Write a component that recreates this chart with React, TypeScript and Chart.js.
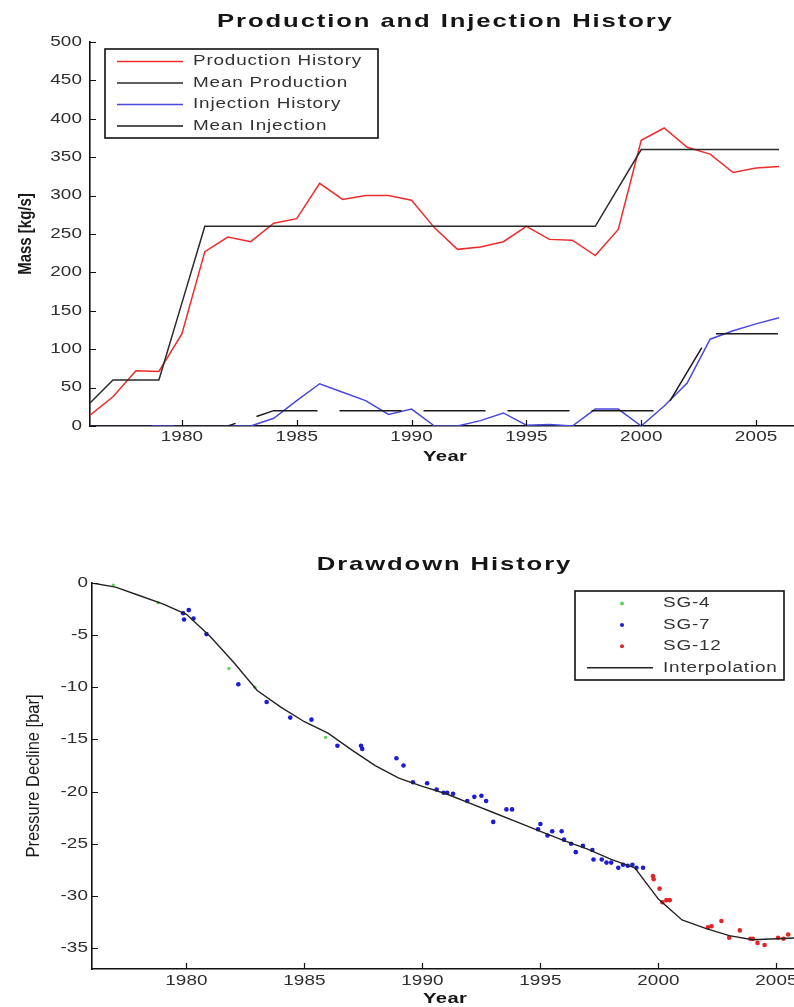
import React, { useEffect, useRef } from "react";
import { Chart, registerables } from "chart.js";

Chart.register(...registerables);

// ---------- Data: Production and Injection History ----------
const years = [
  1976, 1977, 1978, 1979, 1980, 1981, 1982, 1983, 1984, 1985, 1986, 1987, 1988, 1989, 1990, 1991,
  1992, 1993, 1994, 1995, 1996, 1997, 1998, 1999, 2000, 2001, 2002, 2003, 2004, 2005, 2006,
];
const productionHistory = [
  14, 38, 72, 71, 120, 227, 246, 240, 264, 270, 316, 295, 300, 300, 294, 258,
  230, 233, 240, 260, 243, 242, 222, 256, 372, 388, 363, 354, 330, 336, 338,
];
const meanProduction = [
  30, 60, 60, 60, 160, 260, 260, 260, 260, 260, 260, 260, 260, 260, 260, 260,
  260, 260, 260, 260, 260, 260, 260, 310, 360, 360, 360, 360, 360, 360, 360,
];
const injectionHistory = [
  0, 0, 0, 0, 0, 0, 0, 0, 10, 33, 55, 44, 33, 15, 22, 0,
  0, 7, 17, 1, 2, 0, 22, 22, 0, 26, 56, 113, 124, 133, 141,
];
const meanInjection = [
  0, 0, 0, 0, 0, 0, 0, 10, 20, 20, 20, 20, 20, 20, 20, 20,
  20, 20, 20, 20, 20, 20, 20, 20, 20, 20, 70, 120, 120, 120, 120,
];
const massTicks = [0, 50, 100, 150, 200, 250, 300, 350, 400, 450, 500];
const yearTicks = [1980, 1985, 1990, 1995, 2000, 2005];

// ---------- Data: Drawdown History ----------
const interpolation = [
  0, -0.4, -1.2, -2.0, -3.0, -5.1, -7.6, -10.3, -11.9, -13.3, -14.4, -16.0, -17.5, -18.7, -19.5, -20.2,
  -21.1, -22.0, -22.9, -23.8, -24.7, -25.5, -26.5, -27.3, -30.3, -32.3, -33.1, -33.8, -34.2, -34.1, -34.0,
];
const sg4Years = [1976.9, 1978.8, 1981.8, 1982.9, 1985.9];
const sg4Decline = [-0.2, -1.9, -8.2, -10.0, -14.8];
const sg7Years = [
  1979.86, 1980.1, 1979.9, 1980.3, 1980.85, 1982.2, 1983.4, 1984.4, 1985.3, 1986.4, 1987.4, 1987.45,
  1988.9, 1989.2, 1989.6, 1990.2, 1990.6, 1990.9, 1991.05, 1991.3, 1991.9, 1992.2, 1992.5, 1992.7,
  1993.0, 1993.56, 1993.8, 1994.9, 1995.0, 1995.3, 1995.5, 1995.9, 1996.0, 1996.3, 1996.5, 1996.8,
  1997.2, 1997.25, 1997.6, 1997.8, 1998.0, 1998.3, 1998.5, 1998.7, 1998.9, 1999.07, 1999.35,
];
const sg7Decline = [
  -2.9, -2.6, -3.5, -3.4, -4.9, -9.7, -11.4, -12.9, -13.1, -15.6, -15.6, -15.9,
  -16.8, -17.5, -19.1, -19.2, -19.8, -20.1, -20.1, -20.2, -20.9, -20.5, -20.4, -20.9,
  -22.9, -21.7, -21.7, -23.6, -23.1, -24.2, -23.8, -23.8, -24.6, -25.0, -25.8, -25.2,
  -25.6, -26.5, -26.5, -26.8, -26.8, -27.3, -27.0, -27.1, -27.0, -27.3, -27.3,
];
const sg12Years = [
  1999.77, 1999.8, 2000.05, 2000.17, 2000.34, 2000.48, 2002.1, 2002.25, 2002.67, 2003.0,
  2003.45, 2003.9, 2004.0, 2004.2, 2004.5, 2005.07, 2005.3, 2005.5, 2005.95,
];
const sg12Decline = [
  -28.1, -28.4, -29.3, -30.6, -30.4, -30.4, -33.0, -32.9, -32.4, -34.0,
  -33.3, -34.1, -34.1, -34.5, -34.7, -34.0, -34.1, -33.7, -33.9,
];
const pressureTicks = [-35, -30, -25, -20, -15, -10, -5, 0];

const FONT = '"Liberation Sans", Arial, Helvetica, sans-serif';
const STRETCH = 1.35;

type LegendSpec = {
  x: number; y: number; w: number; h: number;
  row0: number; step: number; sx1: number; sx2: number; mx: number; tx: number;
};
type Decor = {
  title: string; titleX: number; titleY: number;
  xTitle: string; xTitleX: number; xTitleY: number;
  yTitle: string; yTitleX: number; yTitleFont: string; yTitleStretch: number;
  xLabelY: number; yLabelRight: number;
  legend: LegendSpec;
};

function stretchText(
  ctx: CanvasRenderingContext2D, text: string, x: number, y: number, font: string,
  align: CanvasTextAlign, ls: number, color: string
) {
  ctx.save();
  ctx.translate(x, y);
  ctx.scale(STRETCH, 1);
  ctx.font = font;
  (ctx as any).letterSpacing = ls + "px";
  ctx.textAlign = align;
  ctx.textBaseline = "middle";
  ctx.fillStyle = color;
  const dx = align === "right" ? ls : align === "center" ? ls / 2 : 0;
  ctx.fillText(text, dx, 0);
  ctx.restore();
}

function decorPlugin(d: Decor) {
  return {
    id: "decor",
    afterDraw(chart: any) {
      const ctx: CanvasRenderingContext2D = chart.ctx;
      const ca = chart.chartArea;
      const xs = chart.scales.x;
      const ys = chart.scales.y;
      ctx.save();
      // inward tick marks
      ctx.strokeStyle = "#111";
      ctx.lineWidth = 1.2;
      ctx.beginPath();
      xs.ticks.forEach((t: any) => {
        const p = Math.round(xs.getPixelForValue(t.value)) + 0.5;
        ctx.moveTo(p, ca.bottom);
        ctx.lineTo(p, ca.bottom - 6);
      });
      ys.ticks.forEach((t: any) => {
        const p = Math.round(ys.getPixelForValue(t.value)) + 0.5;
        ctx.moveTo(ca.left, p);
        ctx.lineTo(ca.left + 6, p);
      });
      ctx.stroke();

      // tick labels (from the scales' own ticks)
      const tickFont = `14px ${FONT}`;
      xs.ticks.forEach((t: any) => {
        stretchText(ctx, String(t.value), xs.getPixelForValue(t.value), d.xLabelY, tickFont, "center", 0.1, "#2e2e2e");
      });
      ys.ticks.forEach((t: any) => {
        stretchText(ctx, String(t.value), d.yLabelRight, ys.getPixelForValue(t.value), tickFont, "right", 0.1, "#2e2e2e");
      });

      // main title
      stretchText(ctx, d.title, d.titleX, d.titleY, `bold 19px ${FONT}`, "center", 1.4, "#151515");
      // x title
      stretchText(ctx, d.xTitle, d.xTitleX, d.xTitleY, `bold 15px ${FONT}`, "center", 0.3, "#151515");

      // y title (rotated; glyphs widened across the axis direction)
      ctx.save();
      ctx.translate(d.yTitleX, (ca.top + ca.bottom) / 2);
      ctx.rotate(-Math.PI / 2);
      ctx.scale(1, d.yTitleStretch);
      ctx.font = d.yTitleFont;
      ctx.textAlign = "center";
      ctx.textBaseline = "middle";
      ctx.fillStyle = "#1a1a1a";
      ctx.fillText(d.yTitle, 0, 0);
      ctx.restore();

      // legend
      const L = d.legend;
      ctx.fillStyle = "#ffffff";
      ctx.fillRect(L.x, L.y, L.w, L.h);
      ctx.strokeStyle = "#111";
      ctx.lineWidth = 1.6;
      ctx.strokeRect(L.x, L.y, L.w, L.h);
      chart.data.datasets.forEach((ds: any, i: number) => {
        const ry = L.row0 + i * L.step;
        if (ds.pointRadius && ds.pointRadius > 0) {
          ctx.fillStyle = ds.backgroundColor;
          ctx.beginPath();
          ctx.arc(L.mx, ry, 2, 0, Math.PI * 2);
          ctx.fill();
        } else {
          ctx.strokeStyle = ds.borderColor;
          ctx.lineWidth = 1.5;
          ctx.beginPath();
          ctx.moveTo(L.sx1, ry);
          ctx.lineTo(L.sx2, ry);
          ctx.stroke();
        }
        stretchText(ctx, ds.label, L.tx, ry, `14px ${FONT}`, "left", 0.6, "#333");
      });
      ctx.restore();
    },
  };
}

function axisOptions(min: number, max: number, ticks: number[], fit: number, horizontal: boolean) {
  return {
    type: "linear",
    position: horizontal ? "bottom" : "left",
    min,
    max,
    afterBuildTicks: (s: any) => {
      s.ticks = ticks.map((v) => ({ value: v }));
    },
    afterFit: (s: any) => {
      if (horizontal) s.height = fit;
      else s.width = fit;
    },
    grid: { display: true, drawOnChartArea: false, drawTicks: false },
    border: { display: true, color: "#111", width: 1.6 },
    ticks: { display: false, autoSkip: false },
  };
}

function ProductionChart() {
  const ref = useRef<HTMLCanvasElement>(null);
  useEffect(() => {
    const toXY = (vals: number[]) => years.map((x, i) => ({ x, y: vals[i] }));
    const lineDs = (label: string, vals: number[], color: string, order: number, dash?: number[]) => ({
      label,
      data: toXY(vals),
      borderColor: color,
      backgroundColor: color,
      borderWidth: 1.5,
      pointRadius: 0,
      tension: 0,
      fill: false,
      order,
      borderDash: dash || [],
    });
    const chart = new Chart(ref.current as HTMLCanvasElement, {
      type: "line",
      data: {
        datasets: [
          lineDs("Production History", productionHistory, "#ee2b2b", 4),
          lineDs("Mean Production", meanProduction, "#2a2a2a", 3),
          lineDs("Injection History", injectionHistory, "#4848dc", 2),
          lineDs("Mean Injection", meanInjection, "#1a1a1a", 1, [62, 22]),
        ],
      },
      options: {
        responsive: false,
        animation: false,
        devicePixelRatio: 1,
        events: [],
        layout: { padding: { top: 42, right: 8, left: 0, bottom: 0 } },
        plugins: { legend: { display: false }, title: { display: false }, tooltip: { enabled: false } },
        scales: {
          x: axisOptions(1976, 2007, yearTicks, 44, true),
          y: axisOptions(0, 500, massTicks, 90, false),
        },
      } as any,
      plugins: [
        decorPlugin({
          title: "Production and Injection History",
          titleX: 444.5,
          titleY: 21.5,
          xTitle: "Year",
          xTitleX: 445,
          xTitleY: 457,
          yTitle: "Mass [kg/s]",
          yTitleX: 26,
          yTitleFont: `bold 15px ${FONT}`,
          yTitleStretch: 1.25,
          xLabelY: 437.5,
          yLabelRight: 82,
          legend: { x: 105, y: 49, w: 273, h: 89, row0: 61.5, step: 21.5, sx1: 117, sx2: 183, mx: 150, tx: 193 },
        }),
      ],
    });
    return () => chart.destroy();
  }, []);
  return (
    <canvas ref={ref} width={810} height={470} style={{ position: "absolute", left: 0, top: 0 }} />
  );
}

function DrawdownChart() {
  const ref = useRef<HTMLCanvasElement>(null);
  useEffect(() => {
    const pts = (xs: number[], ys: number[]) => xs.map((x, i) => ({ x, y: ys[i] }));
    const chart = new Chart(ref.current as HTMLCanvasElement, {
      type: "scatter",
      data: {
        datasets: [
          {
            label: "SG-4",
            data: pts(sg4Years, sg4Decline),
            backgroundColor: "#5fd35f",
            borderWidth: 0,
            pointRadius: 1.7,
            order: 4,
          },
          {
            label: "SG-7",
            data: pts(sg7Years, sg7Decline),
            backgroundColor: "#1c1cd4",
            borderWidth: 0,
            pointRadius: 2.3,
            order: 3,
          },
          {
            label: "SG-12",
            data: pts(sg12Years, sg12Decline),
            backgroundColor: "#e42424",
            borderWidth: 0,
            pointRadius: 2.3,
            order: 2,
          },
          {
            label: "Interpolation",
            data: pts(years, interpolation),
            borderColor: "#222",
            backgroundColor: "#222",
            borderWidth: 1.4,
            pointRadius: 0,
            showLine: true,
            tension: 0,
            order: 1,
          },
        ],
      },
      options: {
        responsive: false,
        animation: false,
        devicePixelRatio: 1,
        events: [],
        layout: { padding: { top: 43, right: 8, left: 0, bottom: 0 } },
        plugins: { legend: { display: false }, title: { display: false }, tooltip: { enabled: false } },
        scales: {
          x: axisOptions(1976, 2006, yearTicks, 38, true),
          y: axisOptions(-37, 0, pressureTicks, 92, false),
        },
      } as any,
      plugins: [
        decorPlugin({
          title: "Drawdown History",
          titleX: 443.5,
          titleY: 25,
          xTitle: "Year",
          xTitleX: 445,
          xTitleY: 459,
          yTitle: "Pressure Decline [bar]",
          yTitleX: 34,
          yTitleFont: `16.5px ${FONT}`,
          yTitleStretch: 1.15,
          xLabelY: 440.7,
          yLabelRight: 88,
          legend: { x: 575, y: 51, w: 209, h: 89, row0: 63.5, step: 21.4, sx1: 587, sx2: 653, mx: 622, tx: 663 },
        }),
      ],
    });
    return () => chart.destroy();
  }, []);
  return (
    <canvas ref={ref} width={808} height={467} style={{ position: "absolute", left: 0, top: 540 }} />
  );
}

export default function App() {
  return (
    <div
      style={{
        position: "absolute",
        left: 0,
        top: 0,
        width: 794,
        height: 1007,
        overflow: "hidden",
        background: "#ffffff",
      }}
    >
      <ProductionChart />
      <DrawdownChart />
    </div>
  );
}
